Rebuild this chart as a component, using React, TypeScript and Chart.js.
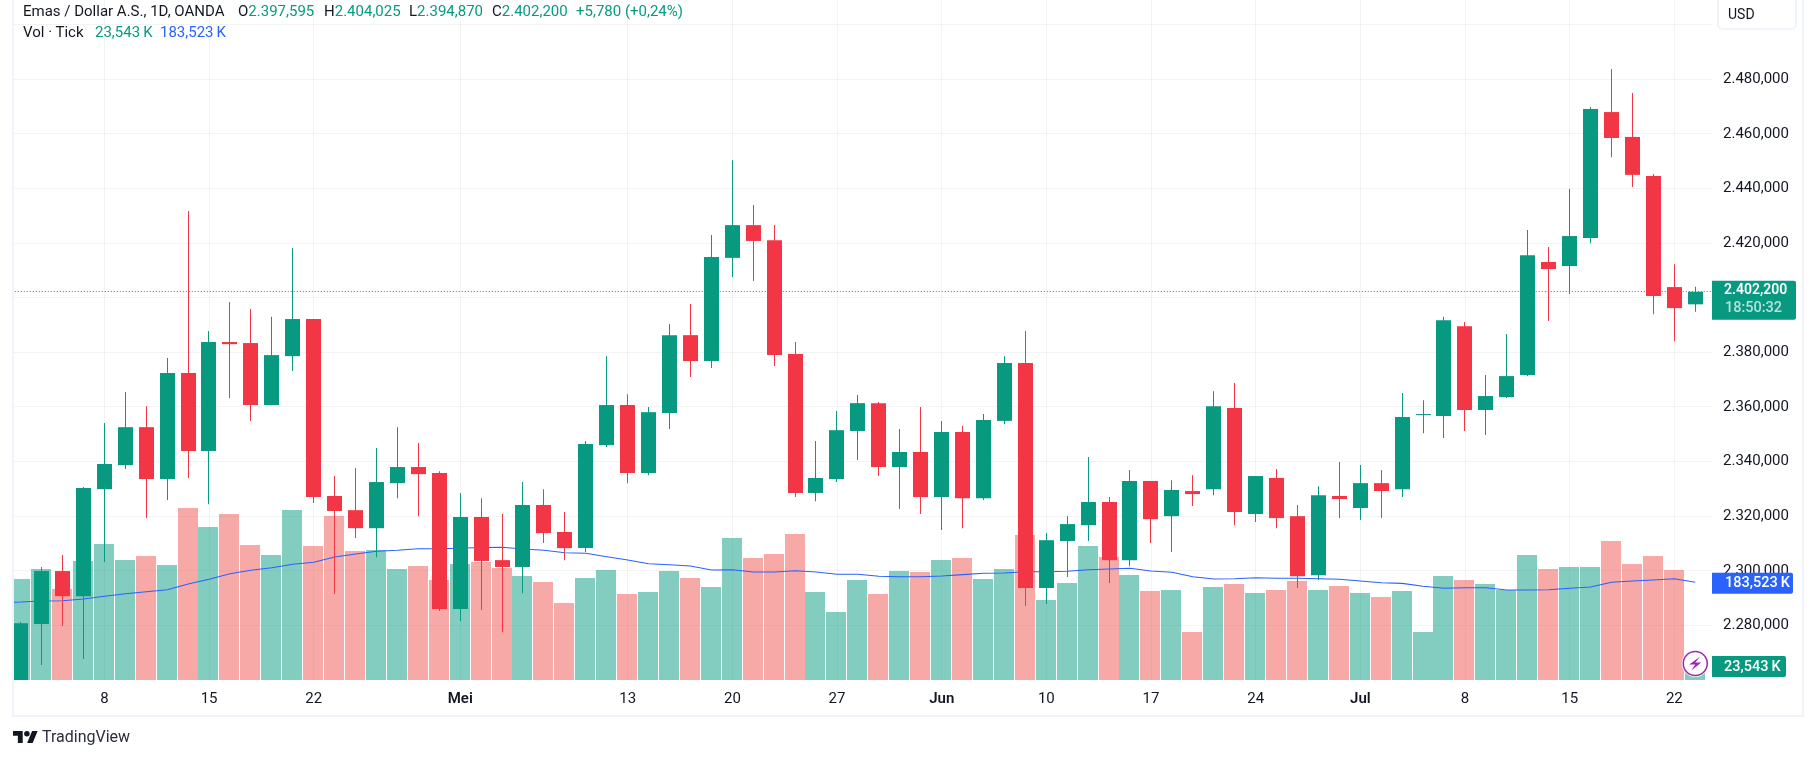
import { useEffect, useRef } from "react"
import { Chart, registerables } from "chart.js"

Chart.register(...registerables)

// Daily candles, Apr 2 - Jul 23 (values in USD with "." as thousands in the labels)
const opens = [
  2254, 2280.5, 2299.9, 2290.7, 2329.9, 2338.7, 2352.6, 2333.6, 2372.4, 2343.9, 2383.8, 2383.4, 2360.7, 2378.6, 2392.2,
  2327.4, 2322.2, 2315.6, 2332.1, 2338.0, 2335.8, 2286.0, 2319.7, 2303.9, 2301.4, 2324.1, 2314.2, 2308.3, 2346.0, 2360.7,
  2335.8, 2357.8, 2386.3, 2376.8, 2414.6, 2426.6, 2421.1, 2379.4, 2328.5, 2333.6, 2351.2, 2361.4, 2338.0, 2343.5, 2327.0,
  2350.8, 2326.6, 2354.9, 2376.1, 2293.7, 2310.9, 2316.7, 2325.2, 2303.9, 2332.9, 2320.0, 2329.2, 2329.9, 2359.6, 2320.8,
  2334.0, 2320.0, 2298.4, 2327.4, 2323.0, 2332.1, 2329.9, 2357.0, 2356.7, 2389.6, 2358.9, 2363.6, 2371.7, 2413.1, 2411.6,
  2421.9, 2468.0, 2458.9, 2444.6, 2403.9, 2397.595,
]
const highs = [
  2281.2, 2301.4, 2305.8, 2330.7, 2354.1, 2365.5, 2360.3, 2377.9, 2431.8, 2387.8, 2398.4, 2395.9, 2393.0, 2418.2, 2392.2,
  2334.7, 2337.6, 2345.0, 2352.6, 2346.8, 2336.5, 2328.5, 2326.6, 2320.8, 2332.5, 2329.9, 2321.5, 2347.5, 2378.6, 2364.7,
  2360.0, 2390.4, 2397.7, 2423.0, 2450.4, 2434.0, 2426.6, 2383.8, 2347.5, 2358.5, 2364.4, 2361.8, 2351.9, 2360.0, 2354.9,
  2353.0, 2357.4, 2378.6, 2387.8, 2313.8, 2320.0, 2341.7, 2327.0, 2336.9, 2332.9, 2333.2, 2335.0, 2365.8, 2368.8, 2334.7,
  2337.3, 2324.1, 2331.0, 2339.8, 2338.7, 2336.9, 2365.1, 2362.5, 2393.0, 2391.1, 2371.7, 2386.7, 2424.8, 2418.6, 2439.8,
  2469.9, 2483.8, 2475.0, 2445.3, 2412.3, 2404.025,
]
const lows = [
  2251, 2265.5, 2279.8, 2267.7, 2303.2, 2337.3, 2319.3, 2325.9, 2334.0, 2324.4, 2363.3, 2354.9, 2360.7, 2373.2, 2324.8,
  2291.5, 2312.0, 2305.0, 2326.6, 2320.0, 2285.3, 2281.6, 2285.6, 2277.5, 2291.8, 2310.2, 2303.9, 2306.9, 2345.3, 2332.1,
  2335.0, 2351.9, 2371.0, 2374.3, 2407.6, 2406.1, 2375.0, 2327.0, 2325.5, 2332.5, 2340.6, 2334.7, 2322.6, 2320.8, 2314.9,
  2315.6, 2325.9, 2353.7, 2287.1, 2287.8, 2297.7, 2310.9, 2295.5, 2301.7, 2310.2, 2306.9, 2323.7, 2327.7, 2316.7, 2317.9,
  2315.6, 2293.7, 2296.6, 2319.3, 2318.6, 2319.3, 2327.0, 2350.4, 2348.6, 2351.2, 2349.7, 2363.3, 2371.3, 2391.5, 2401.4,
  2420.0, 2451.5, 2440.6, 2394.0, 2384.1, 2394.87,
]
const closes = [
  2280.8, 2299.9, 2290.7, 2330.3, 2339.1, 2352.6, 2333.6, 2372.4, 2343.9, 2383.8, 2383.0, 2360.7, 2379.0, 2392.2, 2327.0,
  2321.9, 2315.6, 2332.5, 2338.0, 2335.4, 2286.0, 2319.7, 2303.6, 2301.4, 2324.1, 2313.8, 2308.3, 2346.4, 2360.7, 2335.8,
  2358.1, 2386.3, 2376.8, 2414.9, 2426.6, 2420.8, 2379.0, 2328.5, 2334.0, 2351.5, 2361.4, 2338.0, 2343.5, 2327.0, 2350.8,
  2326.6, 2355.2, 2376.1, 2293.7, 2311.2, 2317.1, 2325.2, 2303.9, 2332.9, 2318.9, 2329.6, 2328.1, 2360.3, 2321.5, 2334.7,
  2319.3, 2298.0, 2327.7, 2326.3, 2332.1, 2329.2, 2356.3, 2357.4, 2391.8, 2358.9, 2364.0, 2371.3, 2415.6, 2410.5, 2422.6,
  2469.1, 2458.5, 2445.0, 2400.6, 2396.2, 2402.2,
]

// Tick volume in thousands
const volumes = [
  189.7, 208.5, 170.9, 223.5, 255.4, 225.4, 232.9, 216.0, 323.0, 287.3, 311.7, 253.5, 234.8, 319.3, 251.7, 308.0, 242.3,
  244.1, 208.5, 214.1, 187.8, 217.8, 221.6, 210.3, 195.3, 184.0, 144.6, 191.6, 206.6, 161.5, 165.3, 204.7, 191.6, 174.7,
  266.7, 229.1, 236.6, 274.2, 165.3, 127.7, 187.8, 161.5, 204.7, 202.8, 225.4, 229.1, 189.7, 208.5, 272.3, 150.2, 182.2,
  251.7, 231.0, 197.2, 167.1, 169.0, 90.1, 174.7, 180.3, 163.4, 169.0, 185.9, 169.0, 176.5, 163.4, 155.9, 167.1, 90.1,
  195.3, 187.8, 180.3, 169.0, 234.8, 208.5, 212.2, 212.2, 261.0, 217.8, 232.9, 206.6, 23.543,
]
const volumeMa = [
  146.5, 148.4, 148.9, 152.1, 157.2, 162.1, 165.8, 169.6, 180.3, 189.1, 199.6, 206.0, 210.9, 217.3, 221.0, 231.0, 236.6,
  241.7, 243.6, 246.6, 246.6, 247.3, 248.8, 249.2, 246.0, 243.6, 239.1, 237.9, 231.6, 225.4, 218.4, 216.5, 214.1, 206.6,
  207.1, 202.8, 202.8, 205.3, 202.8, 198.5, 198.5, 194.7, 194.0, 194.0, 195.3, 197.8, 200.4, 200.9, 203.4, 203.4, 204.1,
  207.1, 208.5, 209.8, 204.7, 202.3, 194.0, 189.7, 190.2, 192.1, 191.0, 191.0, 190.2, 189.1, 185.9, 182.5, 181.4, 176.0,
  172.2, 173.3, 173.3, 169.0, 169.0, 169.6, 172.2, 174.7, 183.5, 185.9, 187.8, 190.2, 183.523,
]
const volumeMaBeforeFirst = 145.5

const dateTickBars = [4, 9, 14, 21, 29, 34, 39, 44, 49, 54, 59, 64, 69, 74, 79]
const dateTickLabels = ["8", "15", "22", "Mei", "13", "20", "27", "Jun", "10", "17", "24", "Jul", "8", "15", "22"]
const monthLabels = ["Mei", "Jun", "Jul"]
const priceTicks = [2280, 2300, 2320, 2340, 2360, 2380, 2400, 2420, 2440, 2460, 2480, 2500]

const UP = "#089981"
const DOWN = "#F23645"
const UP_VOL = "rgba(8, 153, 129, 0.5)"
const DOWN_VOL = "rgba(239, 83, 80, 0.5)"
const MA_BLUE = "#2962FF"
const TEXT = "#131722"
const GRID = "rgba(42, 46, 57, 0.06)"
const FONT = "Roboto, 'Noto Sans', sans-serif"

const formatPrice = (v: number) => {
  const whole = Math.floor(v)
  const fraction = Math.round((v - whole) * 1000)
  return `${Math.floor(whole / 1000)}.${String(whole % 1000).padStart(3, "0")},${String(fraction).padStart(3, "0")}`
}

const isUp = (i: number) => closes[i] >= opens[i]

// Candles land on whole pixels, like the original renderer does
const snapPlugin = {
  id: "snap",
  afterDatasetsUpdate(chart: any) {
    chart.data.datasets.forEach((ds: any, index: number) => {
      const meta = chart.getDatasetMeta(index)
      if (ds.label === "Body" || ds.label === "Wick") {
        meta.data.forEach((el: any) => {
          el.x = Math.floor(el.x - 0.12) + 0.5
        })
      } else if (ds.label === "Volume") {
        meta.data.forEach((el: any) => {
          el.x = Math.floor(el.x - 0.12)
        })
      } else if (ds.label === "Last price") {
        meta.data.forEach((el: any) => {
          el.y = Math.floor(el.y) + 0.5
        })
      }
    })
  },
}

// Price tags on the right axis and the marker on the last bar
const tagsPlugin = {
  id: "tags",
  afterDraw(chart: any) {
    const { ctx, scales, chartArea } = chart
    const left = chartArea.right
    const last = closes.length - 1

    const tag = (top: number, h: number, w: number, color: string) => {
      ctx.fillStyle = color
      ctx.beginPath()
      ctx.roundRect(left, top, w, h, [0, 2, 2, 0])
      ctx.fill()
    }

    ctx.save()
    ctx.textBaseline = "middle"
    ctx.textAlign = "left"

    // Volume MA tag
    const maY = scales.vol.getPixelForValue(volumeMa[last])
    tag(maY - 9.5, 21, 81, MA_BLUE)
    ctx.fillStyle = "#fff"
    ctx.font = `500 14.5px ${FONT}`
    ctx.fillText("183,523\u2009K", left + 13, maY + 1.5)

    // Volume tag
    const volY = scales.vol.getPixelForValue(volumes[last])
    tag(volY - 11.5, 21, 74, UP)
    ctx.fillStyle = "#fff"
    ctx.fillText("23,543\u2009K", left + 12, volY - 0.5)

    // Last price tag with countdown
    const priceY = scales.y.getPixelForValue(closes[last])
    tag(priceY - 11, 39, 84, UP)
    ctx.fillStyle = "#fff"
    ctx.font = `600 14px ${FONT}`
    ctx.fillText(formatPrice(closes[last]), left + 12, priceY - 1)
    ctx.fillStyle = "rgba(255, 255, 255, 0.7)"
    ctx.font = `500 14.5px ${FONT}`
    ctx.fillText("18:50:32", left + 13, priceY + 17)

    // Lightning marker on the last bar
    const cx = scales.x.getPixelForValue(last)
    const cy = volY - 4
    ctx.beginPath()
    ctx.arc(cx, cy, 13.5, 0, Math.PI * 2)
    ctx.fillStyle = "#fff"
    ctx.fill()
    ctx.beginPath()
    ctx.arc(cx, cy, 12, 0, Math.PI * 2)
    ctx.strokeStyle = "#9C27B0"
    ctx.lineWidth = 1.5
    ctx.stroke()
    ctx.beginPath()
    ctx.moveTo(cx + 5, cy - 7)
    ctx.lineTo(cx - 6, cy + 1)
    ctx.lineTo(cx, cy + 1)
    ctx.lineTo(cx - 4, cy + 7)
    ctx.lineTo(cx + 6, cy - 1)
    ctx.lineTo(cx, cy - 1)
    ctx.closePath()
    ctx.fillStyle = "#9C27B0"
    ctx.fill()
    ctx.restore()
  },
}

const legendRow: React.CSSProperties = {
  position: "absolute",
  font: `15px ${FONT}`,
  lineHeight: "18px",
  whiteSpace: "nowrap",
}

function Label({ x, y, color, children }: { x: number; y: number; color: string; children: React.ReactNode }) {
  return <span style={{ ...legendRow, left: x, top: y, color }}>{children}</span>
}

export default function App() {
  const chartRef = useRef<HTMLCanvasElement>(null)

  useEffect(() => {
    if (!chartRef.current) return
    const bars = closes.map((_, i) => i)

    const chart = new Chart(chartRef.current, {
      type: "bar",
      data: {
        datasets: [
          {
            label: "Body",
            data: bars.map((i) => ({ x: i, y: [opens[i], closes[i]] })),
            backgroundColor: bars.map((i) => (isUp(i) ? UP : DOWN)),
            barThickness: 15,
            grouped: false,
            inflateAmount: 0,
            yAxisID: "y",
            order: 1,
          },
          {
            label: "Wick",
            data: bars.map((i) => ({ x: i, y: [lows[i], highs[i]] })),
            backgroundColor: bars.map((i) => (isUp(i) ? UP : DOWN)),
            barThickness: 1,
            grouped: false,
            inflateAmount: 0,
            yAxisID: "y",
            order: 2,
          },
          {
            type: "line",
            label: "Last price",
            data: [
              { x: -1, y: closes[closes.length - 1] },
              { x: 82, y: closes[closes.length - 1] },
            ],
            borderColor: UP,
            borderWidth: 1,
            borderDash: [1, 2],
            pointRadius: 0,
            yAxisID: "y",
            order: 3,
          },
          {
            type: "line",
            label: "Volume MA",
            data: [{ x: -1, y: volumeMaBeforeFirst }, ...bars.map((i) => ({ x: i, y: volumeMa[i] }))],
            borderColor: MA_BLUE,
            borderWidth: 1.1,
            pointRadius: 0,
            tension: 0,
            yAxisID: "vol",
            order: 4,
          },
          {
            label: "Volume",
            data: bars.map((i) => ({ x: i, y: volumes[i] })),
            backgroundColor: bars.map((i) => (isUp(i) ? UP_VOL : DOWN_VOL)),
            barThickness: 20,
            grouped: false,
            inflateAmount: 0,
            yAxisID: "vol",
            order: 5,
          },
        ],
      } as any,
      options: {
        responsive: false,
        animation: false,
        layout: { padding: { left: 13, right: 13, top: 0, bottom: 44 } },
        plugins: { legend: { display: false }, tooltip: { enabled: false } },
        scales: {
          x: {
            type: "linear",
            offset: false,
            min: -0.368,
            max: 80.8,
            afterFit: (scale: any) => {
              scale.height = 35
              scale.paddingLeft = 0
              scale.paddingRight = 0
            },
            afterBuildTicks: (scale: any) => {
              scale.ticks = dateTickBars.map((value) => ({ value }))
            },
            grid: { color: GRID, drawTicks: false, offset: false },
            border: { display: false },
            ticks: {
              autoSkip: false,
              maxRotation: 0,
              padding: 10,
              color: TEXT,
              font: (ctx: any) => ({
                family: FONT,
                size: 15,
                weight: monthLabels.includes(dateTickLabels[ctx.index]) ? 600 : 400,
              }),
              callback: (value: any) => dateTickLabels[dateTickBars.indexOf(value)],
            },
          },
          y: {
            position: "right",
            min: 2260,
            max: 2509.05,
            afterFit: (scale: any) => {
              scale.width = 90
              scale.paddingTop = 0
              scale.paddingBottom = 0
            },
            afterBuildTicks: (scale: any) => {
              scale.ticks = priceTicks.map((value) => ({ value }))
            },
            grid: { color: GRID, drawTicks: false },
            border: { display: false },
            ticks: {
              autoSkip: false,
              padding: 11,
              color: TEXT,
              font: { family: FONT, size: 15 },
              callback: (value: any) => (value > 2480 ? "" : formatPrice(value)),
            },
          },
          vol: {
            display: false,
            min: 0,
            max: 1277,
          },
        },
      },
      plugins: [snapPlugin, tagsPlugin],
    })

    return () => {
      chart.destroy()
    }
  }, [])

  return (
    <div style={{ position: "fixed", left: 0, top: 0, width: 1815, height: 759, background: "#fff", overflow: "hidden" }}>
      <canvas ref={chartRef} width={1815} height={759} style={{ position: "absolute", left: 0, top: 0 }}></canvas>

      {/* pane frame */}
      <div
        style={{
          position: "absolute",
          left: 12,
          top: -4,
          width: 1788,
          height: 717,
          border: "2px solid #F0F3FA",
          pointerEvents: "none",
        }}
      ></div>

      <Label x={23} y={2} color={TEXT}>Emas / Dollar A.S., 1D, OANDA</Label>
      <Label x={238} y={2} color={TEXT}>O<span style={{ color: UP }}>2.397,595</span></Label>
      <Label x={324} y={2} color={TEXT}>H<span style={{ color: UP }}>2.404,025</span></Label>
      <Label x={409} y={2} color={TEXT}>L<span style={{ color: UP }}>2.394,870</span></Label>
      <Label x={492} y={2} color={TEXT}>C<span style={{ color: UP }}>2.402,200</span></Label>
      <Label x={576} y={2} color={UP}>+5,780 (+0,24%)</Label>
      <Label x={23} y={23} color={TEXT}>Vol · Tick</Label>
      <Label x={95} y={23} color={UP}>23,543{"\u2009"}K</Label>
      <Label x={160} y={23} color={MA_BLUE}>183,523{"\u2009"}K</Label>

      {/* currency button */}
      <div
        style={{
          position: "absolute",
          left: 1717,
          top: -6,
          width: 76,
          height: 32,
          border: "2px solid #F0F3FA",
          borderRadius: 6,
          background: "#fff",
          font: `14px ${FONT}`,
          color: TEXT,
        }}
      >
        <span style={{ position: "absolute", left: 9, top: 9, lineHeight: "18px" }}>USD</span>
      </div>

      {/* logo */}
      <svg
        viewBox="0 4 36 18"
        width={25}
        height={12.5}
        style={{ position: "absolute", left: 12.5, top: 730.5 }}
        fill={TEXT}
      >
        <path d="M14 22H7V11H0V4h14v18zM28 22h-8l7.5-18h8L28 22z" />
        <circle cx="20" cy="8" r="4" />
      </svg>
      <span style={{ position: "absolute", left: 42, top: 727, font: `16px ${FONT}`, lineHeight: "20px", color: "#2a2e39" }}>
        TradingView
      </span>
    </div>
  )
}
